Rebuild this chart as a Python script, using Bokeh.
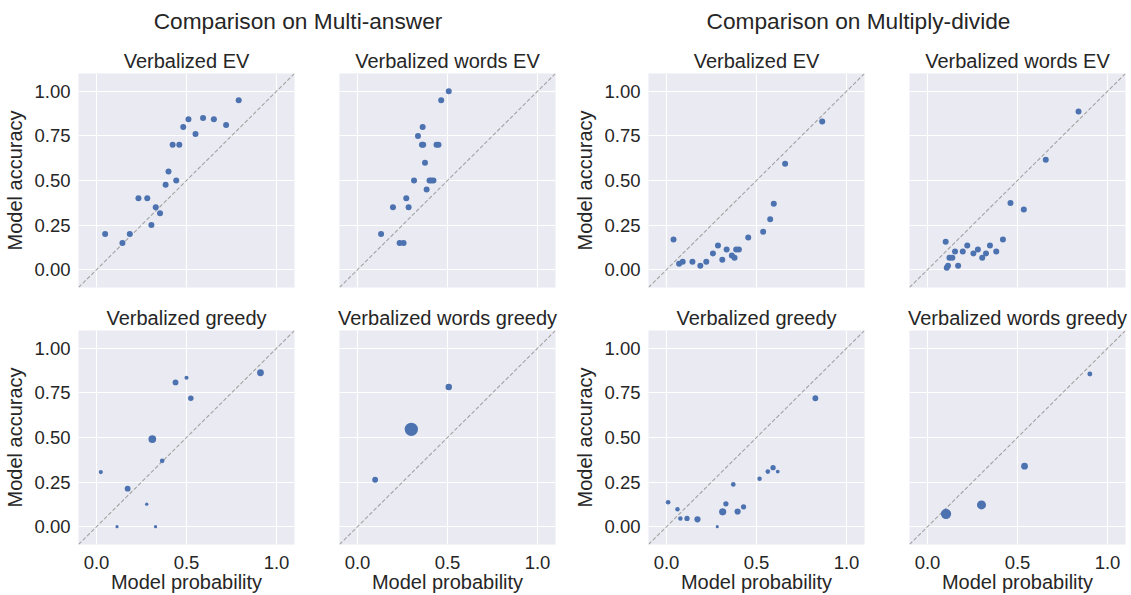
import math
from bokeh.plotting import figure
from bokeh.layouts import row, column
from bokeh.models import FixedTicker, Range1d, NumeralTickFormatter
from bokeh.embed import file_html
from bokeh.resources import INLINE
from bokeh.core.properties import value

# ---------------- data ----------------
group_titles = ["Comparison on Multi-answer", "Comparison on Multiply-divide"]
panel_titles = ["Verbalized EV", "Verbalized words EV", "Verbalized greedy", "Verbalized words greedy"]
x_label = "Model probability"
y_label = "Model accuracy"
x_ticks = [0.0, 0.5, 1.0]
y_ticks = [0.0, 0.25, 0.5, 0.75, 1.0]
axis_limits = [-0.1, 1.1]

ma_ev_x = [0.048, 0.144, 0.185, 0.233, 0.282, 0.305, 0.329, 0.353, 0.384, 0.400, 0.443, 0.423, 0.460, 0.482, 0.511, 0.550, 0.592, 0.652, 0.720, 0.790]
ma_ev_y = [0.200, 0.150, 0.200, 0.400, 0.400, 0.250, 0.350, 0.317, 0.476, 0.550, 0.500, 0.700, 0.700, 0.800, 0.843, 0.761, 0.850, 0.843, 0.811, 0.950]

ma_words_ev_x = [0.507, 0.465, 0.362, 0.336, 0.358, 0.365, 0.439, 0.450, 0.375, 0.314, 0.400, 0.410, 0.422, 0.384, 0.271, 0.197, 0.284, 0.131, 0.234, 0.256]
ma_words_ev_y = [1.000, 0.950, 0.800, 0.750, 0.700, 0.700, 0.700, 0.700, 0.600, 0.500, 0.500, 0.500, 0.500, 0.450, 0.400, 0.350, 0.350, 0.200, 0.150, 0.150]

md_ev_x = [0.039, 0.070, 0.090, 0.144, 0.188, 0.221, 0.258, 0.286, 0.310, 0.334, 0.363, 0.378, 0.387, 0.402, 0.454, 0.537, 0.576, 0.596, 0.659, 0.865]
md_ev_y = [0.169, 0.033, 0.044, 0.044, 0.022, 0.044, 0.091, 0.135, 0.056, 0.113, 0.080, 0.067, 0.113, 0.113, 0.180, 0.213, 0.283, 0.370, 0.594, 0.831]

md_words_ev_x = [0.839, 0.657, 0.461, 0.535, 0.419, 0.101, 0.347, 0.221, 0.280, 0.153, 0.196, 0.382, 0.255, 0.325, 0.304, 0.122, 0.138, 0.170, 0.107, 0.114]
md_words_ev_y = [0.887, 0.617, 0.374, 0.337, 0.169, 0.157, 0.135, 0.135, 0.113, 0.102, 0.102, 0.102, 0.091, 0.091, 0.067, 0.067, 0.067, 0.022, 0.011, 0.022]

ma_greedy_x = [0.024, 0.114, 0.173, 0.279, 0.310, 0.328, 0.365, 0.439, 0.500, 0.524, 0.911]
ma_greedy_y = [0.306, 0.000, 0.213, 0.126, 0.491, 0.000, 0.369, 0.809, 0.835, 0.720, 0.863]
ma_greedy_n = [11, 4, 28, 5, 54, 5, 16, 28, 11, 25, 40]

ma_words_greedy_x = [0.098, 0.299, 0.507]
ma_words_greedy_y = [0.263, 0.546, 0.783]
ma_words_greedy_n = [28, 169, 36]

md_greedy_x = [0.009, 0.061, 0.077, 0.114, 0.172, 0.282, 0.312, 0.330, 0.371, 0.395, 0.428, 0.517, 0.563, 0.592, 0.618, 0.827]
md_greedy_y = [0.137, 0.098, 0.046, 0.046, 0.041, 0.000, 0.083, 0.128, 0.237, 0.085, 0.111, 0.269, 0.309, 0.331, 0.309, 0.720]
md_greedy_n = [16, 14, 14, 22, 32, 4, 45, 22, 16, 32, 22, 14, 16, 22, 9, 28]

md_words_greedy_x = [0.103, 0.300, 0.539, 0.902]
md_words_greedy_y = [0.072, 0.122, 0.339, 0.856]
md_words_greedy_n = [100, 76, 40, 18]

# ---------------- style ----------------
FONT = "Liberation Sans"
TXT = "#262626"
BG = "#EAEAF2"
DOT = "#4C72B0"

# column geometry: (width, border_left, border_right) -> frame 216
cols = [(316, 78, 22), (254, 23, 15), (316, 78, 22), (245, 23, 6)]
# row geometry: (height, border_top, border_bottom) -> frame 214
SUP_H = 40
rows = [(263, 33, 16), (292, 27, 51)]


def make_panel(ci, ri, title, xs, ys, counts):
    w, bl, br = cols[ci]
    h, bt, bb = rows[ri]
    p = figure(width=w, height=h, output_backend="svg", toolbar_location=None,
               x_range=Range1d(*axis_limits), y_range=Range1d(*axis_limits),
               min_border_left=bl, min_border_right=br,
               min_border_top=bt, min_border_bottom=bb,
               background_fill_color=BG, border_fill_color="white",
               outline_line_color=None)
    p.title.text = title
    p.title.align = "center"
    p.title.text_font = FONT
    p.title.text_font_size = "20px"
    p.title.text_font_style = "normal"
    p.title.text_color = TXT
    p.title.standoff = 3

    for ax in (p.xaxis[0], p.yaxis[0]):
        ax.axis_line_color = None
        ax.major_tick_line_color = None
        ax.minor_tick_line_color = None
        ax.major_tick_out = 0
        ax.major_tick_in = 0
        ax.minor_tick_out = 0
        ax.minor_tick_in = 0
        ax.major_label_text_font = FONT
        ax.major_label_text_font_size = "18.5px"
        ax.major_label_text_color = TXT
        ax.axis_label_text_font = FONT
        ax.axis_label_text_font_size = "20px"
        ax.axis_label_text_font_style = "normal"
        ax.axis_label_text_color = TXT
    p.xaxis[0].major_label_standoff = 11
    p.yaxis[0].major_label_standoff = 8
    p.xaxis[0].ticker = FixedTicker(ticks=x_ticks)
    p.yaxis[0].ticker = FixedTicker(ticks=y_ticks)
    p.xaxis[0].formatter = NumeralTickFormatter(format="0.0")
    p.yaxis[0].formatter = NumeralTickFormatter(format="0.00")
    p.xgrid[0].ticker = FixedTicker(ticks=x_ticks)
    p.ygrid[0].ticker = FixedTicker(ticks=y_ticks)
    for g in (p.xgrid[0], p.ygrid[0]):
        g.grid_line_color = "white"
        g.grid_line_width = 1.1

    if ri == 1:
        p.xaxis[0].axis_label = x_label
        p.xaxis[0].axis_label_standoff = -1
    else:
        p.xaxis[0].visible = False
    if ci in (0, 2):
        p.yaxis[0].axis_label = y_label
        p.yaxis[0].axis_label_standoff = 5
    else:
        p.yaxis[0].visible = False

    p.line(axis_limits, axis_limits, line_color="#a3a3a3", line_width=1.1, line_dash="4 2")
    if counts is None:
        sizes = [6] * len(xs)
    else:
        sizes = [math.sqrt(n + 6) for n in counts]
    p.scatter(x=xs, y=ys, size=sizes, fill_color=DOT, line_color=None)
    return p


top = [
    make_panel(0, 0, panel_titles[0], ma_ev_x, ma_ev_y, None),
    make_panel(1, 0, panel_titles[1], ma_words_ev_x, ma_words_ev_y, None),
    make_panel(2, 0, panel_titles[0], md_ev_x, md_ev_y, None),
    make_panel(3, 0, panel_titles[1], md_words_ev_x, md_words_ev_y, None),
]
bottom = [
    make_panel(0, 1, panel_titles[2], ma_greedy_x, ma_greedy_y, ma_greedy_n),
    make_panel(1, 1, panel_titles[3], ma_words_greedy_x, ma_words_greedy_y, ma_words_greedy_n),
    make_panel(2, 1, panel_titles[2], md_greedy_x, md_greedy_y, md_greedy_n),
    make_panel(3, 1, panel_titles[3], md_words_greedy_x, md_words_greedy_y, md_words_greedy_n),
]

TOTAL_W = sum(c[0] for c in cols)
sup = figure(width=TOTAL_W, height=SUP_H, output_backend="svg", toolbar_location=None,
             x_range=Range1d(0, TOTAL_W), y_range=Range1d(0, SUP_H),
             x_axis_location=None, y_axis_location=None,
             min_border=0, outline_line_color=None,
             background_fill_color="white", border_fill_color="white")
sup.grid.visible = False
sup_centers = [297.5, 858]
sup.text(x=sup_centers, y=[20, 20], text=group_titles,
         text_align="center", text_baseline="alphabetic",
         text_font=value(FONT), text_font_size=value("22.7px"), text_color=TXT)

layout = column(sup, row(*top), row(*bottom))
open("out.html", "w").write(file_html(layout, INLINE))
